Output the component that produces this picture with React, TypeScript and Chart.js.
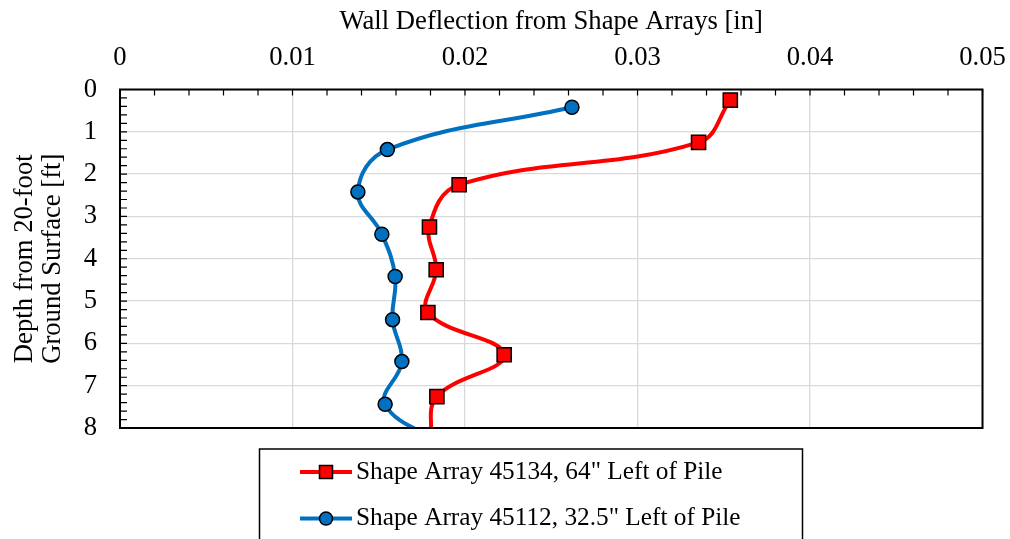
import React, { useEffect, useRef } from 'react';
import { Chart, registerables } from 'chart.js';

Chart.register(...registerables);

const FONT = "'Liberation Serif', 'Times New Roman', Times, serif";

const xTickLabels = ['0', '0.01', '0.02', '0.03', '0.04', '0.05'];
const yTickLabels = ['0', '1', '2', '3', '4', '5', '6', '7', '8'];

const xTitle = 'Wall Deflection from Shape Arrays [in]';
const yTitle = ['Depth from 20-foot', 'Ground Surface [ft]'];

const redName = 'Shape Array 45134, 64" Left of Pile';
const redDepth = [0.25, 1.25, 2.25, 3.25, 4.26, 5.27, 6.27, 7.26, 8.26];
const redDeflection = [0.03538, 0.03354, 0.01966, 0.01794, 0.01833, 0.01785, 0.02227, 0.01837, 0.0180];

const blueName = 'Shape Array 45112, 32.5" Left of Pile';
const blueDepth = [0.42, 1.42, 2.42, 3.42, 4.42, 5.44, 6.43, 7.44, 8.42];
const blueDeflection = [0.0262, 0.0155, 0.01379, 0.01518, 0.01595, 0.0158, 0.01634, 0.01537, 0.0189];

const RED = '#FF0000';
const BLUE = '#0070C0';

const framePlugin = {
  id: 'frame',
  afterDatasetsDraw(chart: any) {
    const { ctx, chartArea: a, scales } = chart;
    ctx.save();
    ctx.strokeStyle = '#000';
    ctx.lineWidth = 1.2;
    ctx.beginPath();
    for (let i = 0; i <= 25; i++) {
      const px = scales.x.getPixelForValue(i * 0.002);
      ctx.moveTo(px, a.top);
      ctx.lineTo(px, a.top + 6);
    }
    for (let i = 0; i <= 40; i++) {
      const py = scales.y.getPixelForValue(i * 0.2);
      ctx.moveTo(a.left, py);
      ctx.lineTo(a.left + 7, py);
    }
    ctx.stroke();
    ctx.lineWidth = 2;
    ctx.strokeRect(a.left, a.top, a.right - a.left, a.bottom - a.top);
    ctx.restore();
  },
  afterDraw(chart: any) {
    const { ctx, chartArea: a } = chart;
    ctx.save();
    const boxLeft = a.left + 139.5;
    const boxTop = a.bottom + 21;
    ctx.strokeStyle = '#000';
    ctx.lineWidth = 1.5;
    ctx.strokeRect(boxLeft, boxTop, 543, 120);
    const items = [
      { name: redName, color: RED, shape: 'rect' },
      { name: blueName, color: BLUE, shape: 'circle' },
    ];
    items.forEach((it, i) => {
      const y = boxTop + 23 + i * 46.6;
      const x0 = boxLeft + 40.5;
      ctx.strokeStyle = it.color;
      ctx.lineWidth = 4;
      ctx.beginPath();
      ctx.moveTo(x0, y);
      ctx.lineTo(x0 + 52, y);
      ctx.stroke();
      const cx = x0 + 26;
      ctx.fillStyle = it.color;
      ctx.strokeStyle = '#000';
      ctx.lineWidth = 1.5;
      if (it.shape === 'rect') {
        ctx.fillRect(cx - 6.5, y - 6.5, 13, 13);
        ctx.strokeRect(cx - 6.5, y - 6.5, 13, 13);
      } else {
        ctx.beginPath();
        ctx.arc(cx, y, 6.5, 0, Math.PI * 2);
        ctx.fill();
        ctx.stroke();
      }
      ctx.fillStyle = '#000';
      ctx.font = `25.3px ${FONT}`;
      ctx.textAlign = 'left';
      ctx.textBaseline = 'middle';
      ctx.fillText(it.name, x0 + 56, y);
    });
    ctx.restore();
  },
};

export default function App() {
  const ref = useRef<HTMLCanvasElement>(null);
  useEffect(() => {
    if (!ref.current) return;
    const chart = new Chart(ref.current, {
      type: 'line',
      data: {
        datasets: [
          {
            label: redName,
            data: redDepth.map((d, i) => ({ x: redDeflection[i], y: d })),
            borderColor: RED,
            backgroundColor: RED,
            borderWidth: 4,
            pointStyle: 'rect',
            pointRadius: 10,
            pointBorderColor: '#000',
            pointBorderWidth: 1.5,
            pointBackgroundColor: RED,
            tension: 0.4,
            fill: false,
          },
          {
            label: blueName,
            data: blueDepth.map((d, i) => ({ x: blueDeflection[i], y: d })),
            borderColor: BLUE,
            backgroundColor: BLUE,
            borderWidth: 4,
            pointStyle: 'circle',
            pointRadius: 7,
            pointBorderColor: '#000',
            pointBorderWidth: 1.5,
            pointBackgroundColor: BLUE,
            tension: 0.4,
            fill: false,
          },
        ],
      },
      options: {
        animation: false,
        responsive: false,
        indexAxis: 'y',
        layout: { padding: { left: 0, top: 0, right: 27.5, bottom: 111 } },
        plugins: {
          legend: { display: false },
          tooltip: { enabled: false },
        },
        scales: {
          x: {
            type: 'linear',
            position: 'top',
            min: 0,
            max: 0.05,
            afterFit: (s: any) => { s.height = 89.5; s.paddingLeft = 0; s.paddingRight = 0; },
            ticks: {
              stepSize: 0.01,
              padding: 16,
              color: '#000',
              font: { family: FONT, size: 26.67 },
              callback: (v: any) => xTickLabels[Math.round(Number(v) / 0.01)],
              maxRotation: 0,
            },
            grid: { color: '#D9D9D9', lineWidth: 1.3, drawTicks: false },
            border: { display: false },
            title: {
              display: true,
              text: xTitle,
              color: '#000',
              font: { family: FONT, size: 26.67, lineHeight: 1.2 },
              padding: { top: 6, bottom: 0 },
            },
          },
          y: {
            type: 'linear',
            position: 'left',
            min: 0,
            max: 8,
            reverse: true,
            afterFit: (s: any) => { s.width = 120; s.paddingTop = 0; s.paddingBottom = 0; },
            ticks: {
              stepSize: 1,
              padding: 23,
              color: '#000',
              font: { family: FONT, size: 26.67 },
              callback: (v: any) => yTickLabels[Math.round(Number(v))],
            },
            grid: { color: '#D9D9D9', lineWidth: 1.3, drawTicks: false },
            border: { display: false },
            title: {
              display: true,
              text: yTitle,
              color: '#000',
              font: { family: FONT, size: 26.67, lineHeight: 1.05 },
              padding: { top: 11, bottom: 0 },
            },
          },
        },
      },
      plugins: [framePlugin],
    } as any);
    return () => chart.destroy();
  }, []);
  return (
    <div style={{ position: 'absolute', left: 0, top: 0, width: 1010, height: 539, background: '#fff' }}>
      <canvas ref={ref} width={1010} height={539} style={{ display: 'block' }} />
    </div>
  );
}
